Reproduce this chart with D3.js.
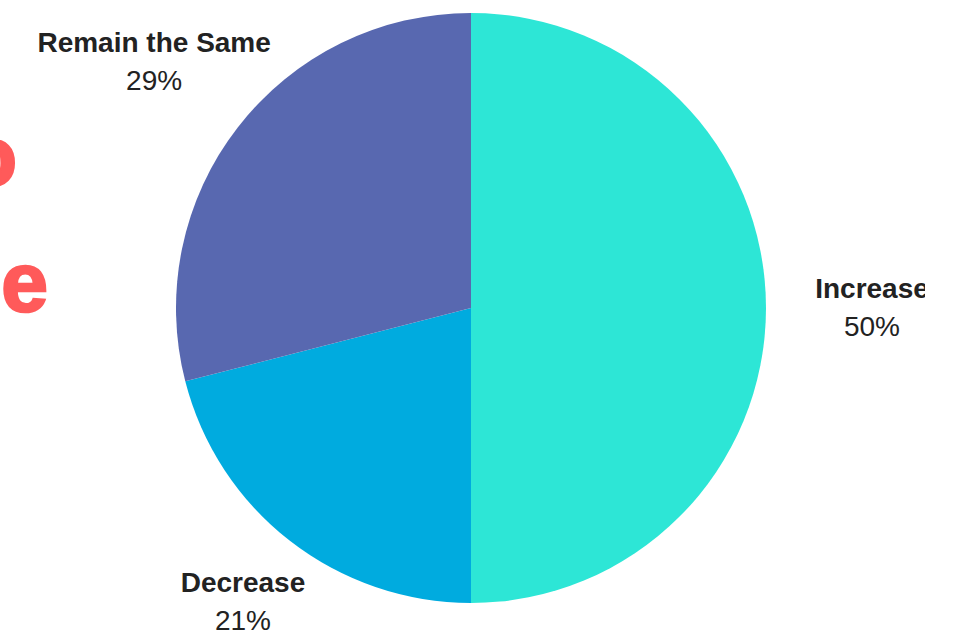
<!DOCTYPE html>
<html>
<head>
<meta charset="utf-8">
<script src="https://cdn.jsdelivr.net/npm/d3@7"></script>
<style>
  html, body { margin: 0; padding: 0; background: #ffffff; }
  svg { display: block; }
</style>
</head>
<body>
<svg id="chart" width="963" height="632"></svg>
<script>
// ---- data ----
const categories = ["Increase", "Decrease", "Remain the Same"];
const values = [50, 21, 29];
const colors = ["#2de6d6", "#00abdf", "#5868b0"];
const sideLetters = ["o", "e"]; // partially visible background heading letters

// ---- layout ----
const W = 963, H = 632;
const cx = 471, cy = 308, R = 295;
const labelR = 401;
const maxLabelY = 602;

const svg = d3.select("#chart");

// background heading fragments (cut off at left edge)
const bg = svg.append("g")
  .attr("font-family", "'Liberation Sans', Arial, sans-serif")
  .attr("font-weight", 900)
  .attr("font-size", 84)
  .attr("fill", "#ff5a5a")
  .attr("stroke", "#ff5a5a")
  .attr("stroke-width", 2.5)
  .attr("text-anchor", "end");
bg.append("text").attr("x", 17).attr("y", 185).text(sideLetters[0]);
bg.append("text").attr("x", 48).attr("y", 311).text(sideLetters[1]);

const data = categories.map((c, i) => ({ name: c, value: values[i], color: colors[i] }));

const pie = d3.pie().value(d => d.value).sort(null);
const arcs = pie(data);
const arc = d3.arc().innerRadius(0).outerRadius(R);

const g = svg.append("g").attr("transform", `translate(${cx},${cy})`);
g.selectAll("path")
  .data(arcs)
  .join("path")
  .attr("d", arc)
  .attr("fill", d => d.data.color);

// labels
svg.append("defs").append("clipPath").attr("id", "lblclip")
  .append("rect").attr("x", 0).attr("y", 0).attr("width", 925).attr("height", H);

const lg = svg.append("g").attr("clip-path", "url(#lblclip)")
  .attr("font-family", "'Liberation Sans', Arial, sans-serif")
  .attr("fill", "#222222")
  .attr("text-anchor", "middle");

arcs.forEach(a => {
  const mid = (a.startAngle + a.endAngle) / 2;
  const sx = Math.sin(mid), sy = -Math.cos(mid);
  let r = labelR;
  if (cy + sy * r > maxLabelY) r = (maxLabelY - cy) / sy;
  const x = cx + sx * r, y = cy + sy * r;
  lg.append("text")
    .attr("x", x).attr("y", y - 10)
    .attr("font-size", 28).attr("font-weight", "bold")
    .text(a.data.name);
  lg.append("text")
    .attr("x", x).attr("y", y + 28)
    .attr("font-size", 28)
    .text(a.data.value + "%");
});
</script>
</body>
</html>
